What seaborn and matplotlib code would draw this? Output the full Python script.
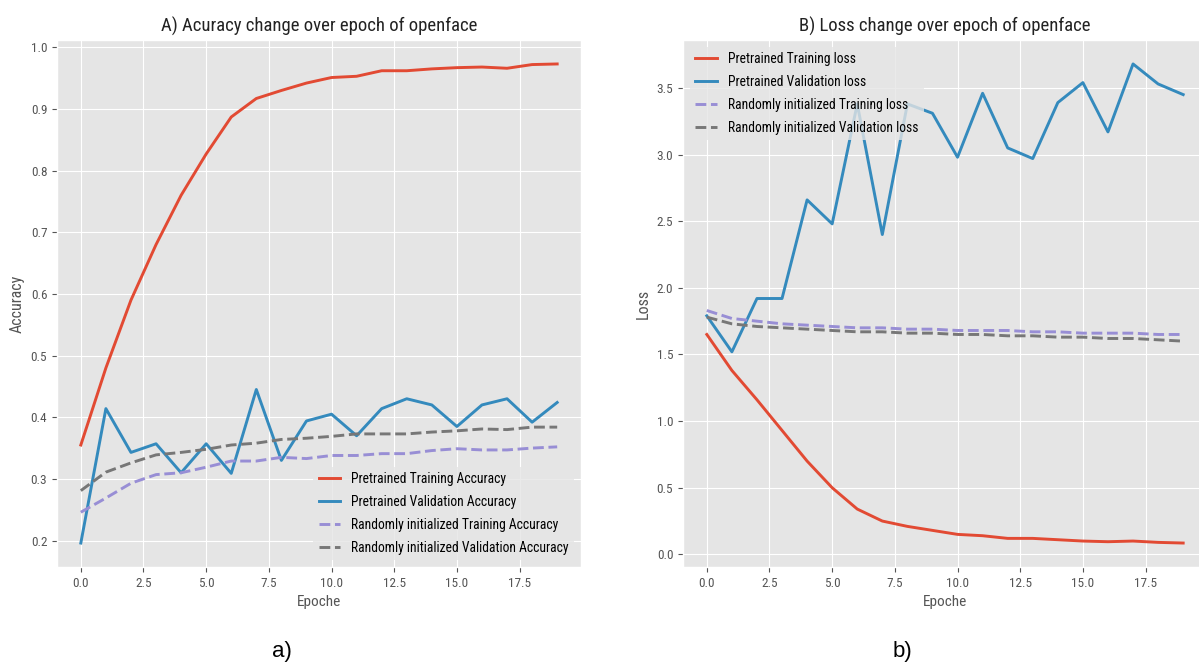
import matplotlib
matplotlib.use("Agg")
import matplotlib.pyplot as plt
import seaborn as sns
import numpy as np
import pandas as pd

plt.style.use("ggplot")
plt.rcParams["font.family"] = ["Liberation Sans Narrow", "Roboto Condensed", "DejaVu Sans"]
plt.rcParams["font.stretch"] = "condensed"

epochs = list(range(20))

# Accuracy (panel A)
pre_train_acc = [0.355, 0.48, 0.59, 0.68, 0.76, 0.827, 0.887, 0.917, 0.930, 0.942,
                 0.951, 0.953, 0.962, 0.962, 0.965, 0.967, 0.968, 0.966, 0.972, 0.973]
pre_val_acc = [0.196, 0.414, 0.343, 0.357, 0.310, 0.357, 0.309, 0.445, 0.330, 0.394,
               0.405, 0.370, 0.414, 0.430, 0.420, 0.385, 0.420, 0.430, 0.392, 0.424]
rnd_train_acc = [0.246, 0.269, 0.293, 0.307, 0.310, 0.319, 0.329, 0.329, 0.335, 0.333,
                 0.338, 0.338, 0.341, 0.341, 0.346, 0.349, 0.347, 0.347, 0.350, 0.352]
rnd_val_acc = [0.281, 0.311, 0.326, 0.339, 0.343, 0.348, 0.355, 0.358, 0.364, 0.366,
               0.369, 0.373, 0.373, 0.373, 0.376, 0.378, 0.381, 0.380, 0.384, 0.384]

# Loss (panel B)
pre_train_loss = [1.65, 1.38, 1.16, 0.93, 0.70, 0.50, 0.34, 0.25, 0.21, 0.18,
                  0.15, 0.14, 0.12, 0.12, 0.11, 0.10, 0.095, 0.10, 0.09, 0.085]
pre_val_loss = [1.79, 1.52, 1.92, 1.92, 2.66, 2.48, 3.38, 2.40, 3.38, 3.31,
                2.98, 3.46, 3.05, 2.97, 3.39, 3.54, 3.17, 3.68, 3.53, 3.45]
rnd_train_loss = [1.83, 1.77, 1.75, 1.73, 1.72, 1.71, 1.70, 1.70, 1.69, 1.69,
                  1.68, 1.68, 1.68, 1.67, 1.67, 1.66, 1.66, 1.66, 1.65, 1.65]
rnd_val_loss = [1.78, 1.73, 1.71, 1.70, 1.69, 1.68, 1.67, 1.67, 1.66, 1.66,
                1.65, 1.65, 1.64, 1.64, 1.63, 1.63, 1.62, 1.62, 1.61, 1.60]

acc_labels = ["Pretrained Training Accuracy", "Pretrained Validation Accuracy",
              "Randomly initialized Training Accuracy", "Randomly initialized Validation Accuracy"]
loss_labels = ["Pretrained Training loss", "Pretrained Validation loss",
               "Randomly initialized Training loss", "Randomly initialized Validation loss"]
colors = ["#E24A33", "#348ABD", "#988ED5", "#777777"]
styles = ["-", "-", "--", "--"]

fig = plt.figure(figsize=(11.99, 6.64), dpi=100)
ax1 = fig.add_axes([57 / 1199, 1 - 567 / 664, 524 / 1199, 527 / 664])
ax2 = fig.add_axes([683 / 1199, 1 - 567 / 664, 524 / 1199, 527 / 664])

for ax, series, labels in [
    (ax1, [pre_train_acc, pre_val_acc, rnd_train_acc, rnd_val_acc], acc_labels),
    (ax2, [pre_train_loss, pre_val_loss, rnd_train_loss, rnd_val_loss], loss_labels),
]:
    for vals, lab, c, ls in zip(series, labels, colors, styles):
        sns.lineplot(x=epochs, y=vals, ax=ax, color=c, linestyle=ls, linewidth=2.1, label=lab)
    ax.tick_params(labelsize=9.5, colors="#555555")
    ax.set_xlabel("Epoche", fontsize=11, color="#555555")

ax1.set_ylabel("Accuracy", fontsize=11.5, color="#555555")
ax2.set_ylabel("Loss", fontsize=11.5, color="#555555")
ax1.set_title("A) Acuracy change over epoch of openface", fontsize=13.5, color="#222222")
ax2.set_title("B) Loss change over epoch of openface", fontsize=13.5, color="#222222")

leg_kw = dict(fontsize=9.8, frameon=True, facecolor="#E5E5E5", edgecolor="none",
              framealpha=0.8, handlelength=1.6, labelspacing=0.65)
ax1.legend(loc="lower right", **leg_kw)
ax2.legend(loc="upper left", **leg_kw)

fig.text(282 / 1199, 1 - 652 / 664, "a)", fontsize=16, ha="center", va="center",
         color="black", family=["Liberation Sans", "DejaVu Sans"], stretch="normal")
fig.text(902 / 1199, 1 - 652 / 664, "b)", fontsize=16, ha="center", va="center",
         color="black", family=["Liberation Sans", "DejaVu Sans"], stretch="normal")

fig.savefig("out.png", dpi=100, facecolor="white")
